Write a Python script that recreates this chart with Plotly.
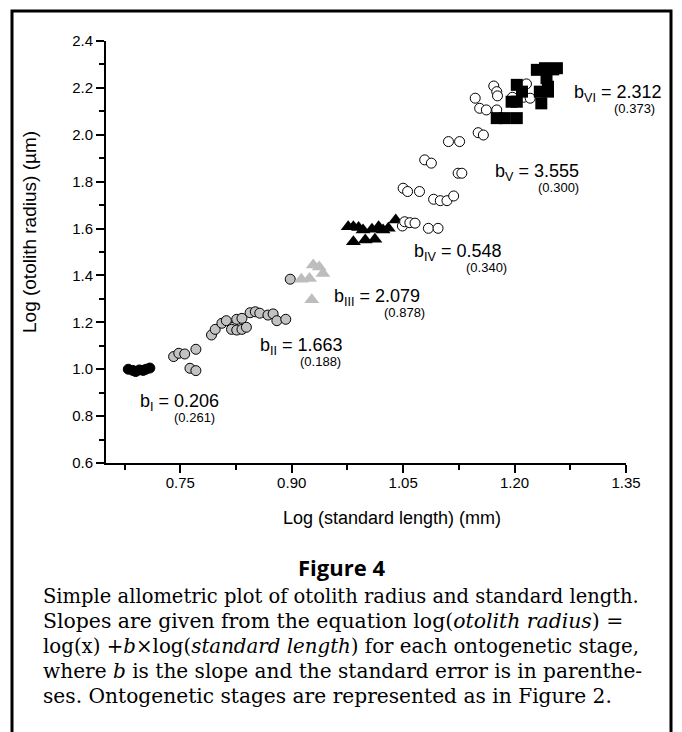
import plotly.graph_objects as go

# ---- data (log standard length, log otolith radius) per ontogenetic stage ----
stage1_x = [0.680, 0.686, 0.690, 0.695, 0.700, 0.704, 0.709]
stage1_y = [1.000, 0.995, 0.990, 0.997, 0.995, 1.000, 1.005]

stage2_x = [0.741, 0.748, 0.756, 0.771, 0.763, 0.771, 0.792, 0.797, 0.806, 0.812, 0.821, 0.826, 0.833,
            0.819, 0.826, 0.833, 0.839, 0.844, 0.851, 0.857, 0.868, 0.875, 0.880, 0.892, 0.898]
stage2_y = [1.054, 1.068, 1.065, 1.085, 1.004, 0.994, 1.146, 1.170, 1.196, 1.207, 1.179, 1.213, 1.217,
            1.170, 1.167, 1.170, 1.179, 1.241, 1.245, 1.239, 1.231, 1.236, 1.207, 1.213, 1.384]

stage3_x = [0.913, 0.924, 0.929, 0.937, 0.942, 0.927]
stage3_y = [1.384, 1.387, 1.445, 1.436, 1.408, 1.296]

stage4_x = [0.976, 0.983, 0.990, 0.996, 1.008, 1.017, 1.023, 1.030, 1.040, 0.983, 0.999, 1.012]
stage4_y = [1.608, 1.608, 1.604, 1.594, 1.597, 1.608, 1.594, 1.601, 1.637, 1.544, 1.551, 1.554]

stage5_x = [1.049, 1.052, 1.059, 1.066, 1.084, 1.097, 1.050, 1.056, 1.072, 1.091, 1.100, 1.109, 1.118,
            1.079, 1.088, 1.124, 1.129, 1.111, 1.126, 1.151, 1.158, 1.147, 1.153, 1.162, 1.176,
            1.172, 1.176, 1.177, 1.216, 1.212, 1.221, 1.197]
stage5_y = [1.611, 1.629, 1.625, 1.623, 1.601, 1.601, 1.772, 1.758, 1.758, 1.725, 1.719, 1.719, 1.739,
            1.893, 1.879, 1.836, 1.836, 1.971, 1.971, 2.009, 1.999, 2.156, 2.113, 2.106, 2.106,
            2.208, 2.184, 2.166, 2.217, 2.160, 2.156, 2.160]

stage6_x = [1.230, 1.241, 1.252, 1.257, 1.243, 1.245, 1.234, 1.245, 1.236, 1.203, 1.210, 1.196, 1.203,
            1.203, 1.176, 1.187]
stage6_y = [2.277, 2.284, 2.279, 2.284, 2.241, 2.205, 2.184, 2.184, 2.134, 2.213, 2.184, 2.141, 2.141,
            2.071, 2.071, 2.071]

stage_labels = ["I", "II", "III", "IV", "V", "VI"]
slopes = ["0.206", "1.663", "2.079", "0.548", "3.555", "2.312"]
std_errors = ["(0.261)", "(0.188)", "(0.878)", "(0.340)", "(0.300)", "(0.373)"]
label_x = [0.6931, 0.8546, 0.9542, 1.0619, 1.1709, 1.2773]
label_y = [0.856, 1.095, 1.308, 1.500, 1.837, 2.178]
se_shift = [34, 40, 50, 52, 43, 40]

x_ticks = [0.75, 0.90, 1.05, 1.20, 1.35]
y_ticks = [0.6, 0.8, 1.0, 1.2, 1.4, 1.6, 1.8, 2.0, 2.2, 2.4]

caption_lines = [
    "Simple allometric plot of otolith radius and standard length.",
    "Slopes are given from the equation log(<i>otolith radius</i>) =",
    "log(x) +<i>b</i>×log(<i>standard length</i>) for each ontogenetic stage,",
    "where <i>b</i> is the slope and the standard error is in parenthe-",
    "ses. Ontogenetic stages are represented as in Figure 2.",
]
caption_sizes = [19.5, 20.4, 19.8, 20.1, 20.2]


def px_x(p):
    return (p - 106) / 520


def px_y(p):
    return (463 - p) / 422


fig = go.Figure()
fig.add_trace(go.Scatter(x=stage1_x, y=stage1_y, mode="markers",
                         marker=dict(symbol="circle", size=10, color="black", line=dict(color="black", width=1))))
fig.add_trace(go.Scatter(x=stage2_x, y=stage2_y, mode="markers",
                         marker=dict(symbol="circle", size=10, color="#c2c2c2", line=dict(color="black", width=1))))
fig.add_trace(go.Scatter(x=stage3_x, y=stage3_y, mode="markers",
                         marker=dict(symbol="triangle-up", size=13, color="#bdbdbd", line=dict(width=0))))
fig.add_trace(go.Scatter(x=stage4_x, y=stage4_y, mode="markers",
                         marker=dict(symbol="triangle-up", size=13, color="black", line=dict(width=0))))
fig.add_trace(go.Scatter(x=stage5_x, y=stage5_y, mode="markers",
                         marker=dict(symbol="circle", size=10, color="white", line=dict(color="black", width=1))))
fig.add_trace(go.Scatter(x=stage6_x, y=stage6_y, mode="markers",
                         marker=dict(symbol="square", size=12, color="black", line=dict(width=0))))

sans = "Liberation Sans, Arial, sans-serif"
for lab, s, se, lx, ly, sh in zip(stage_labels, slopes, std_errors, label_x, label_y, se_shift):
    fig.add_annotation(x=lx, y=ly, xref="x", yref="y", xanchor="left", yanchor="middle",
                       text=f"b<sub>{lab}</sub> = {s}", showarrow=False,
                       font=dict(family=sans, size=18, color="black"))
    fig.add_annotation(x=lx, y=ly, xref="x", yref="y", xanchor="left", yanchor="middle",
                       xshift=sh, yshift=-15, text=se, showarrow=False,
                       font=dict(family=sans, size=13, color="black"))

# axis titles
fig.add_annotation(x=px_x(392), y=px_y(518), xref="paper", yref="paper", xanchor="center", yanchor="middle",
                   text="Log (standard length) (mm)",
                   showarrow=False, font=dict(family=sans, size=18, color="black"))
fig.add_annotation(x=px_x(30), y=px_y(232), xref="paper", yref="paper", xanchor="center", yanchor="middle",
                   text="Log (otolith radius) (µm)",
                   textangle=-90, showarrow=False, font=dict(family=sans, size=19, color="black"))

fig.add_annotation(x=px_x(341), y=px_y(567), xref="paper", yref="paper", xanchor="center", yanchor="middle",
                   text="<b>Figure 4</b>",
                   showarrow=False, font=dict(family="Open Sans, sans-serif", size=22, color="black"))
cap_y0 = 596
for i, (line, fs) in enumerate(zip(caption_lines, caption_sizes)):
    py = cap_y0 + i * 25
    fig.add_annotation(x=px_x(41), y=px_y(py), xref="paper", yref="paper",
                       xanchor="left", yanchor="middle", text=line, showarrow=False,
                       font=dict(family="DejaVu Serif, serif", size=fs, color="black"))

fig.add_shape(type="rect", xref="paper", yref="paper",
              x0=px_x(12), x1=px_x(671), y0=px_y(760), y1=px_y(11),
              line=dict(color="black", width=3), fillcolor="rgba(0,0,0,0)", layer="below")

axis_common = dict(showline=True, linecolor="black", linewidth=2, ticks="outside", ticklen=8,
                   tickwidth=2, tickcolor="black", showgrid=False, zeroline=False,
                   tickfont=dict(family=sans, size=15, color="black"))

fig.update_xaxes(range=[0.65, 1.35], tickvals=x_ticks, ticktext=[f"{v:.2f}" for v in x_ticks],
                 minor=dict(ticks="outside", ticklen=5, tickwidth=2, tickcolor="black",
                            tickvals=[0.675, 0.825, 0.975, 1.125, 1.275]),
                 ticklabelstandoff=-3, **axis_common)
fig.update_yaxes(range=[0.6, 2.4], tickvals=y_ticks, ticktext=[f"{v:.1f}" for v in y_ticks],
                 minor=dict(ticks="outside", ticklen=5, tickwidth=2, tickcolor="black",
                            tickvals=[0.7, 0.9, 1.1, 1.3, 1.5, 1.7, 1.9, 2.1, 2.3]),
                 **axis_common)

fig.update_layout(width=682, height=732, margin=dict(l=106, r=56, t=41, b=269),
                  paper_bgcolor="white", plot_bgcolor="white", showlegend=False)

fig.write_html("out.html")
